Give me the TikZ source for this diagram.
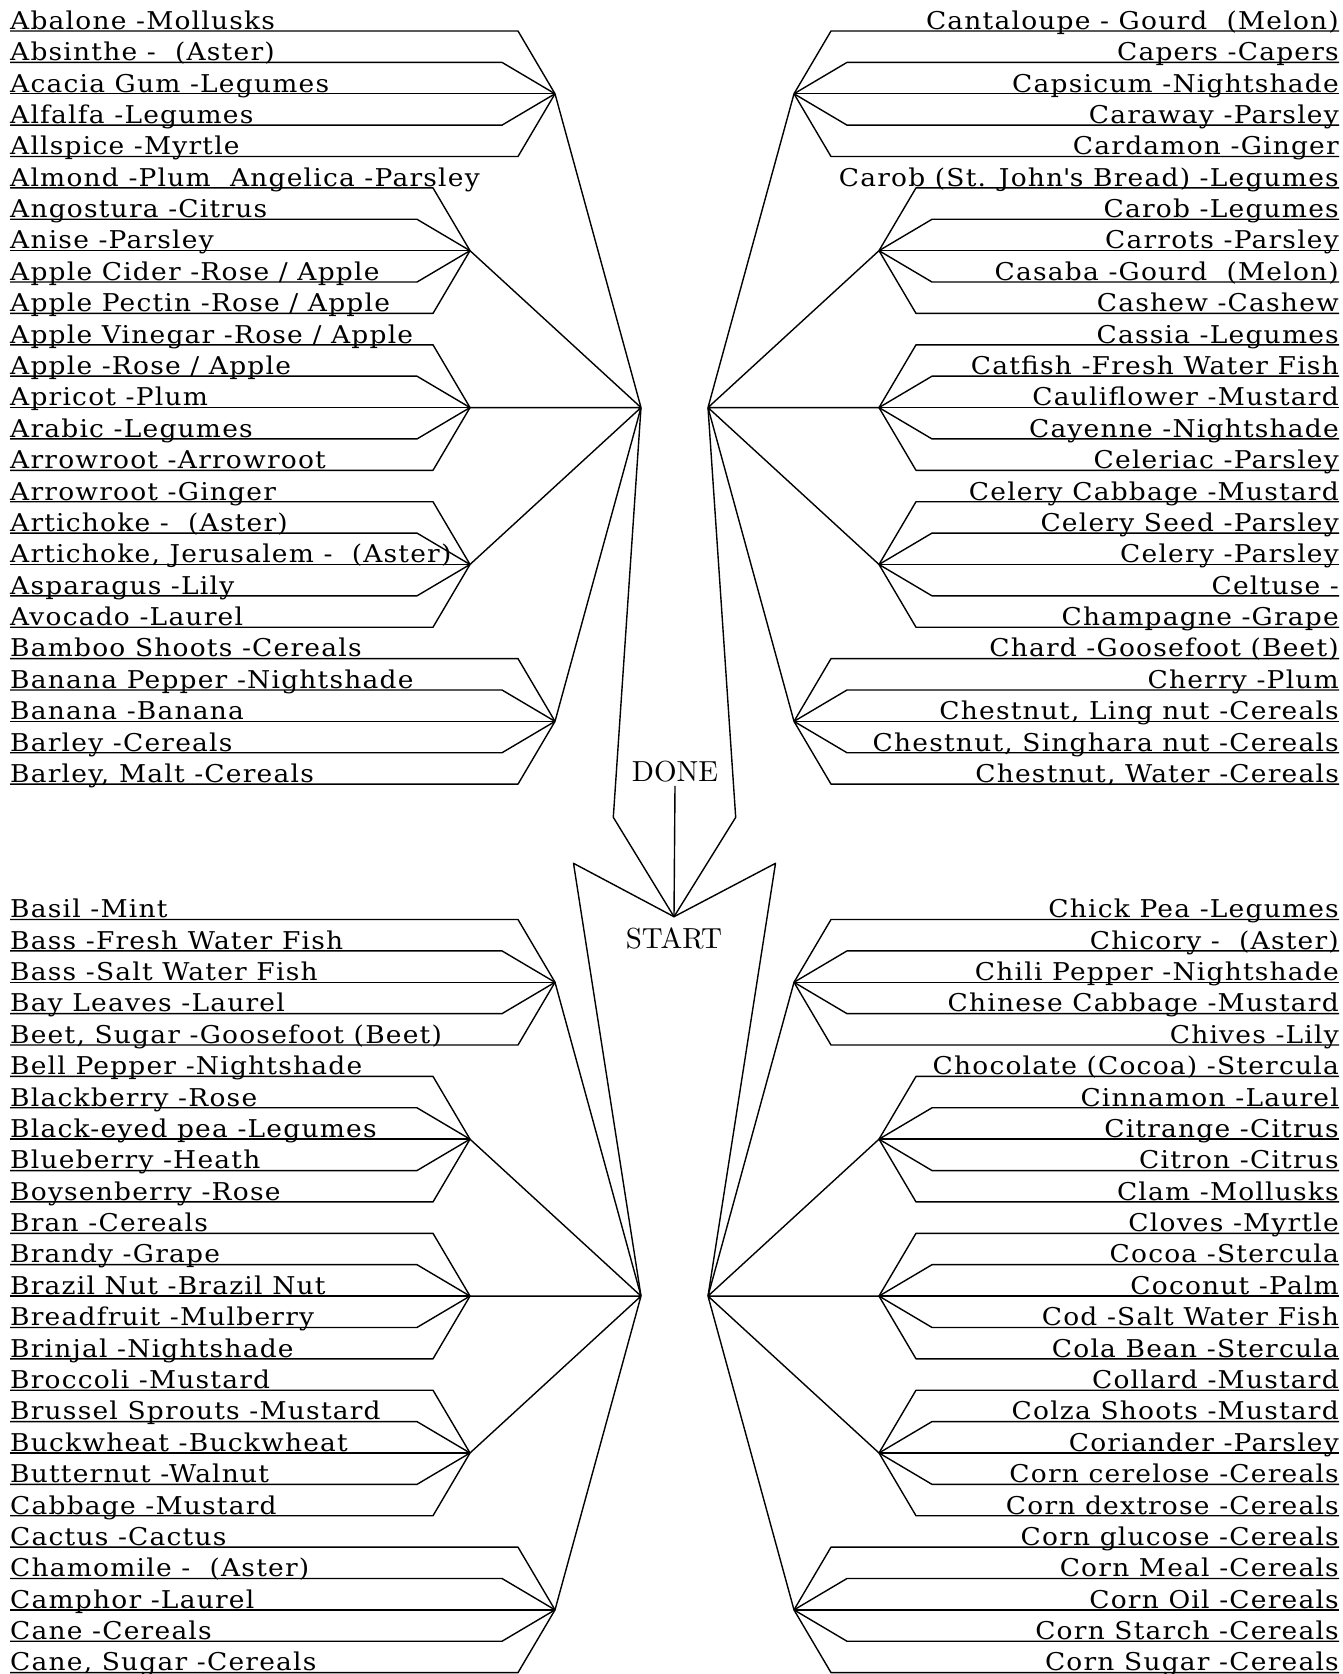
\documentclass[tikz,border=0pt]{standalone}
\usepackage{fontspec}
\newfontfamily\itemfont{DejaVu Serif}[FakeStretch=1.08, LetterSpace=5]
\newfontfamily\endfont{lmroman10-regular.otf}
\newcommand{\rowgap}{31.38}
\newcommand{\toprow}{31}
\newcommand{\botrow}{919.5}
\newcommand{\leftx}{10}
\newcommand{\rightx}{1339}
\newcommand{\outerdx}{37}
\newcommand{\innerdx}{53}
\tikzset{
    wire/.style={line width=1.4pt, line join=round},
    item/.style={inner xsep=0pt, inner ysep=1.5pt, text depth=0pt, font=\itemfont\fontsize{24.5}{24.5}\selectfont},
    leftitem/.style={item, anchor=south west},
    rightitem/.style={item, anchor=south east},
    endword/.style={anchor=base, font=\endfont\fontsize{29}{29}\selectfont}
}
% five rows joined to one hub, text on the left
\newcommand{\leftgroup}[8]{%
    \coordinate (#1) at (#3, #2+2*\rowgap);
    \node[leftitem] (#11) at (\leftx, #2) {#4};
    \node[leftitem] (#12) at (\leftx, #2+\rowgap) {#5};
    \node[leftitem] (#13) at (\leftx, #2+2*\rowgap) {#6};
    \node[leftitem] (#14) at (\leftx, #2+3*\rowgap) {#7};
    \node[leftitem] (#15) at (\leftx, #2+4*\rowgap) {#8};
    \draw[wire] (#11.south west) -- (#3-\outerdx, #2) -- (#1);
    \draw[wire] (#12.south west) -- (#3-\innerdx, #2+\rowgap) -- (#1);
    \draw[wire] (#13.south west) -- (#1);
    \draw[wire] (#14.south west) -- (#3-\innerdx, #2+3*\rowgap) -- (#1);
    \draw[wire] (#15.south west) -- (#3-\outerdx, #2+4*\rowgap) -- (#1);
}
% the same, text on the right
\newcommand{\rightgroup}[8]{%
    \coordinate (#1) at (#3, #2+2*\rowgap);
    \node[rightitem] (#11) at (\rightx, #2) {#4};
    \node[rightitem] (#12) at (\rightx, #2+\rowgap) {#5};
    \node[rightitem] (#13) at (\rightx, #2+2*\rowgap) {#6};
    \node[rightitem] (#14) at (\rightx, #2+3*\rowgap) {#7};
    \node[rightitem] (#15) at (\rightx, #2+4*\rowgap) {#8};
    \draw[wire] (#11.south east) -- (#3+\outerdx, #2) -- (#1);
    \draw[wire] (#12.south east) -- (#3+\innerdx, #2+\rowgap) -- (#1);
    \draw[wire] (#13.south east) -- (#1);
    \draw[wire] (#14.south east) -- (#3+\innerdx, #2+3*\rowgap) -- (#1);
    \draw[wire] (#15.south east) -- (#3+\outerdx, #2+4*\rowgap) -- (#1);
}

\begin{document}
\begin{tikzpicture}[x=1pt, y=-1pt]
    \useasboundingbox (0,0) rectangle (1342,1674);

    \leftgroup{tla}{\toprow}{555}{Abalone -Mollusks}{Absinthe -\ \ (Aster)}{Acacia Gum -Legumes}{Alfalfa -Legumes}{Allspice -Myrtle}
    \leftgroup{tlb}{\toprow+5*\rowgap}{470}{Almond -Plum\ \ Angelica -Parsley}{Angostura -Citrus}{Anise -Parsley}{Apple Cider -Rose / Apple}{Apple Pectin -Rose / Apple}
    \leftgroup{tlc}{\toprow+10*\rowgap}{470}{Apple Vinegar -Rose / Apple}{Apple -Rose / Apple}{Apricot -Plum}{Arabic -Legumes}{Arrowroot -Arrowroot}
    \leftgroup{tld}{\toprow+15*\rowgap}{470}{Arrowroot -Ginger}{Artichoke -\ \ (Aster)}{Artichoke, Jerusalem -\ \ (Aster)}{Asparagus -Lily}{Avocado -Laurel}
    \leftgroup{tle}{\toprow+20*\rowgap}{555}{Bamboo Shoots -Cereals}{Banana Pepper -Nightshade}{Banana -Banana}{Barley -Cereals}{Barley, Malt -Cereals}

    \rightgroup{tra}{\toprow}{794}{Cantaloupe - Gourd\ \ (Melon)}{Capers -Capers}{Capsicum -Nightshade}{Caraway -Parsley}{Cardamon -Ginger}
    \rightgroup{trb}{\toprow+5*\rowgap}{879}{Carob (St. John\textquotesingle s Bread) -Legumes}{Carob -Legumes}{Carrots -Parsley}{Casaba -Gourd\ \ (Melon)}{Cashew -Cashew}
    \rightgroup{trc}{\toprow+10*\rowgap}{879}{Cassia -Legumes}{Catfish -Fresh Water Fish}{Cauliflower -Mustard}{Cayenne -Nightshade}{Celeriac -Parsley}
    \rightgroup{trd}{\toprow+15*\rowgap}{879}{Celery Cabbage -Mustard}{Celery Seed -Parsley}{Celery -Parsley}{Celtuse -}{Champagne -Grape}
    \rightgroup{tre}{\toprow+20*\rowgap}{794}{Chard -Goosefoot (Beet)}{Cherry -Plum}{Chestnut, Ling nut -Cereals}{Chestnut, Singhara nut -Cereals}{Chestnut, Water -Cereals}

    \leftgroup{bla}{\botrow}{555}{Basil -Mint}{Bass -Fresh Water Fish}{Bass -Salt Water Fish}{Bay Leaves -Laurel}{Beet, Sugar -Goosefoot (Beet)}
    \leftgroup{blb}{\botrow+5*\rowgap}{470}{Bell Pepper -Nightshade}{Blackberry -Rose}{Black-eyed pea -Legumes}{Blueberry -Heath}{Boysenberry -Rose}
    \leftgroup{blc}{\botrow+10*\rowgap}{470}{Bran -Cereals}{Brandy -Grape}{Brazil Nut -Brazil Nut}{Breadfruit -Mulberry}{Brinjal -Nightshade}
    \leftgroup{bld}{\botrow+15*\rowgap}{470}{Broccoli -Mustard}{Brussel Sprouts -Mustard}{Buckwheat -Buckwheat}{Butternut -Walnut}{Cabbage -Mustard}
    \leftgroup{ble}{\botrow+20*\rowgap}{555}{Cactus -Cactus}{Chamomile -\ \ (Aster)}{Camphor -Laurel}{Cane -Cereals}{Cane, Sugar -Cereals}

    \rightgroup{bra}{\botrow}{794}{Chick Pea -Legumes}{Chicory -\ \ (Aster)}{Chili Pepper -Nightshade}{Chinese Cabbage -Mustard}{Chives -Lily}
    \rightgroup{brb}{\botrow+5*\rowgap}{879}{Chocolate (Cocoa) -Stercula}{Cinnamon -Laurel}{Citrange -Citrus}{Citron -Citrus}{Clam -Mollusks}
    \rightgroup{brc}{\botrow+10*\rowgap}{879}{Cloves -Myrtle}{Cocoa -Stercula}{Coconut -Palm}{Cod -Salt Water Fish}{Cola Bean -Stercula}
    \rightgroup{brd}{\botrow+15*\rowgap}{879}{Collard -Mustard}{Colza Shoots -Mustard}{Coriander -Parsley}{Corn cerelose -Cereals}{Corn dextrose -Cereals}
    \rightgroup{bre}{\botrow+20*\rowgap}{794}{Corn glucose -Cereals}{Corn Meal -Cereals}{Corn Oil -Cereals}{Corn Starch -Cereals}{Corn Sugar -Cereals}

    % quarter hubs
    \coordinate (tl) at (641, \toprow+12*\rowgap);
    \coordinate (tr) at (708, \toprow+12*\rowgap);
    \coordinate (bl) at (641, \botrow+12*\rowgap);
    \coordinate (br) at (708, \botrow+12*\rowgap);
    \draw[wire] (tla) -- (tl) (tlb) -- (tl) (tlc) -- (tl) (tld) -- (tl) (tle) -- (tl);
    \draw[wire] (tra) -- (tr) (trb) -- (tr) (trc) -- (tr) (trd) -- (tr) (tre) -- (tr);
    \draw[wire] (bla) -- (bl) (blb) -- (bl) (blc) -- (bl) (bld) -- (bl) (ble) -- (bl);
    \draw[wire] (bra) -- (br) (brb) -- (br) (brc) -- (br) (brd) -- (br) (bre) -- (br);

    % middle
    \coordinate (apex) at (674, 916.7);
    \coordinate (tlbend) at (613.3, 817.3);
    \coordinate (trbend) at (735.7, 817.3);
    \coordinate (blbend) at (573.5, 863.3);
    \coordinate (brbend) at (775.5, 863.3);
    \node[endword] (done) at (675, 781.7) {DONE};
    \node[endword] (start) at (674, 948.3) {START};
    \draw[wire] (tl) -- (tlbend) -- (apex) -- (trbend) -- (tr);
    \draw[wire] (bl) -- (blbend) -- (apex) -- (brbend) -- (br);
    \draw[wire] (done.south) -- (apex);
\end{tikzpicture}
\end{document}
